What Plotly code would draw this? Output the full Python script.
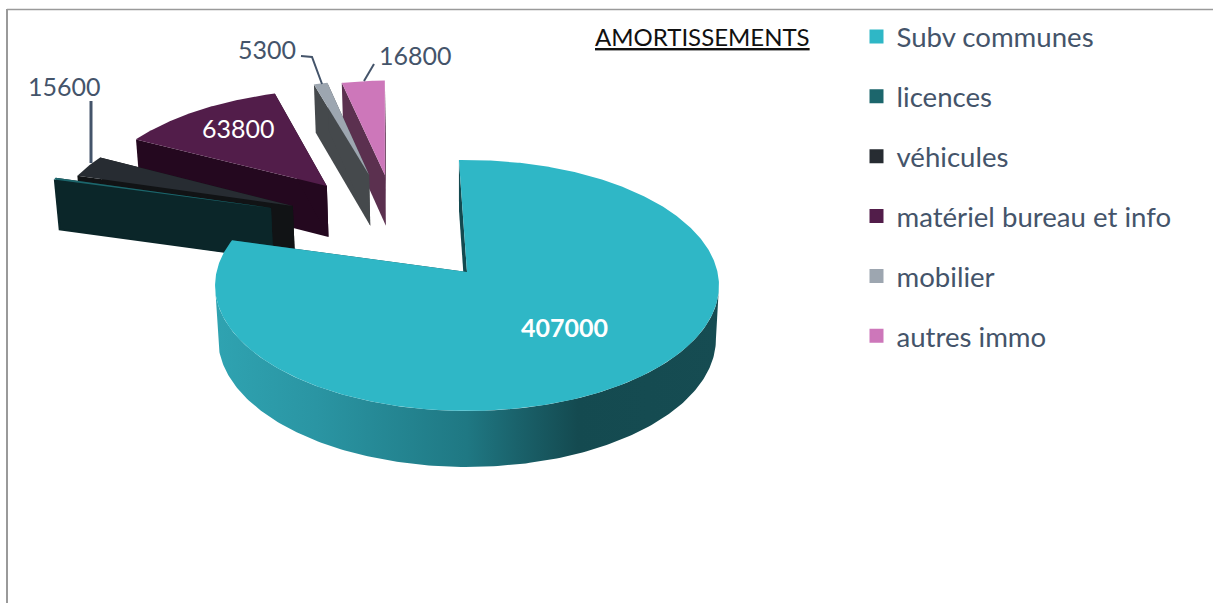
import numpy as np
import plotly.graph_objects as go

# ---- data ----
CATEGORIES = ["Subv communes", "licences", "véhicules", "matériel bureau et info", "mobilier", "autres immo"]
VALUES = [407000, 1500, 15600, 63800, 5300, 16800]
LABELLED = [True, False, True, True, True, True]

# ---- styles ----
TOP_COLORS = ["#2FB7C6", "#1C666C", "#272C32", "#521D4A", "#9DA6B0", "#CD77BA"]
WALL_COLORS = ["#134A50", "#0B2629", "#111315", "#24081F", "#45494C", "#5B304F"]
PULL_U = [0.008, -0.82, -0.729, -0.596, -0.418, -0.349]
PULL_V = [0, -0.547, -0.565, -0.749, -0.854, -0.854]
DRAW_ORDER = [5, 4, 3, 2, 1, 0]
LABEL_XY = [(564, 327), None, (64, 86), (238, 128), (267, 49), (415, 55)]
LABEL_COLOR = ["white", None, "#44546A", "white", "#44546A", "#44546A"]
TEXT = "#44546A"
FONT = "Lato"

# projection of the pie plane
CX, CY, A, B, P = 465.0, 272.0, 250.5, 124.0, 0.1076
DEPTH, SHRINK = 53.0, 0.988
START_DEG = -2.0


def top(u, v):
    s = 1 / (1 - P * v)
    return CX + A * u * s, CY + B * v * s


def bottom(u, v):
    x, y = top(u, v)
    return CX + (x - CX) * SHRINK, y + DEPTH / (1 - 0.5 * P * v)


def poly(fig, x, y, color, **kw):
    fig.add_trace(go.Scatter(x=list(x) + [x[0]], y=list(y) + [y[0]], mode="lines", fill="toself",
                             fillcolor=color, line=dict(width=0, color=color), showlegend=False,
                             hoverinfo="skip", **kw))


fig = go.Figure()
vals = np.array(VALUES, float)
edges = START_DEG + np.concatenate([[0], np.cumsum(vals)]) / vals.sum() * 360

for i in DRAW_ORDER:
    a0, a1 = edges[i], edges[i + 1]
    th = np.radians(np.linspace(a0, a1, max(4, int(a1 - a0) * 2)))
    ou, ov = PULL_U[i], PULL_V[i]
    u = ou + np.sin(th)
    v = ov - np.cos(th)
    for uu, vv in ((u[0], v[0]), (u[-1], v[-1])):
        tx0, ty0 = top(ou, ov)
        tx1, ty1 = top(uu, vv)
        bx1, by1 = bottom(uu, vv)
        bx0, by0 = bottom(ou, ov)
        poly(fig, [tx0, tx1, bx1, bx0], [ty0, ty1, by1, by0], WALL_COLORS[i])
    lo, hi = max(a0, 96.2), min(a1, 263.8)
    if hi > lo:
        tf = np.radians(np.linspace(lo, hi, 200))
        uf, vf = ou + np.sin(tf), ov - np.cos(tf)
        tx, ty = top(uf, vf)
        bx, by = bottom(uf, vf)
        poly(fig, np.r_[tx, bx[::-1]], np.r_[ty, by[::-1]], WALL_COLORS[i],
             fillgradient=dict(type="horizontal",
                               colorscale=[[0, "#2FA3B1"], [0.2, "#2A95A3"], [0.5, "#1F7883"],
                                           [0.6, "#1A626B"], [0.72, "#144A50"], [1, "#164C52"]]))
    tx, ty = top(np.r_[ou, u], np.r_[ov, v])
    poly(fig, tx, ty, TOP_COLORS[i])

# legend entries
for name, col in zip(CATEGORIES, TOP_COLORS):
    fig.add_trace(go.Scatter(x=[None], y=[None], mode="markers", name=name, legendgroup=name,
                             marker=dict(symbol="square", size=16, color=col, line=dict(color=col, width=4)),
                             hoverinfo="skip"))

# leader lines
leaders = [([91, 91], [101, 163]), ([301, 312, 322], [56, 57, 84]), ([374, 364], [64, 81])]
widths = [3, 2, 2]
for (lx, ly), w in zip(leaders, widths):
    fig.add_trace(go.Scatter(x=lx, y=ly, mode="lines", line=dict(color=TEXT, width=w),
                             showlegend=False, hoverinfo="skip"))

# data labels
ann = []
for i, v in enumerate(VALUES):
    if not LABELLED[i]:
        continue
    txt = f"<b>{v}</b>" if i == 0 else str(v)
    ann.append(dict(x=LABEL_XY[i][0], y=LABEL_XY[i][1], xref="x", yref="y", text=txt, showarrow=False,
                    font=dict(family=FONT, size=25, color=LABEL_COLOR[i]), xanchor="center", yanchor="middle"))
ann.append(dict(x=702, y=36, xref="x", yref="y", text="<u>AMORTISSEMENTS</u>", showarrow=False,
                font=dict(family=FONT, size=24, color="#111111"), xanchor="center", yanchor="middle"))

shapes = [
    dict(type="line", xref="x", yref="y", x0=7, x1=1213, y0=9.5, y1=9.5, line=dict(color="#9A9A9A", width=1.5)),
    dict(type="line", xref="x", yref="y", x0=7, x1=7, y0=9, y1=603, line=dict(color="#9A9A9A", width=2)),
]

fig.update_layout(
    width=1213, height=603, margin=dict(l=0, r=0, t=0, b=0),
    paper_bgcolor="white", plot_bgcolor="white",
    xaxis=dict(range=[0, 1213], visible=False, fixedrange=True),
    yaxis=dict(range=[603, 0], visible=False, fixedrange=True),
    shapes=shapes, annotations=ann,
    legend=dict(x=856.5 / 1213, y=1 - 12 / 603, xanchor="left", yanchor="top", itemsizing="constant",
                tracegroupgap=21, font=dict(family=FONT, size=27.6, color=TEXT), bgcolor="rgba(0,0,0,0)"),
)
fig.write_html("out.html", config=dict(displayModeBar=False), post_script="document.body.style.margin='0';")
